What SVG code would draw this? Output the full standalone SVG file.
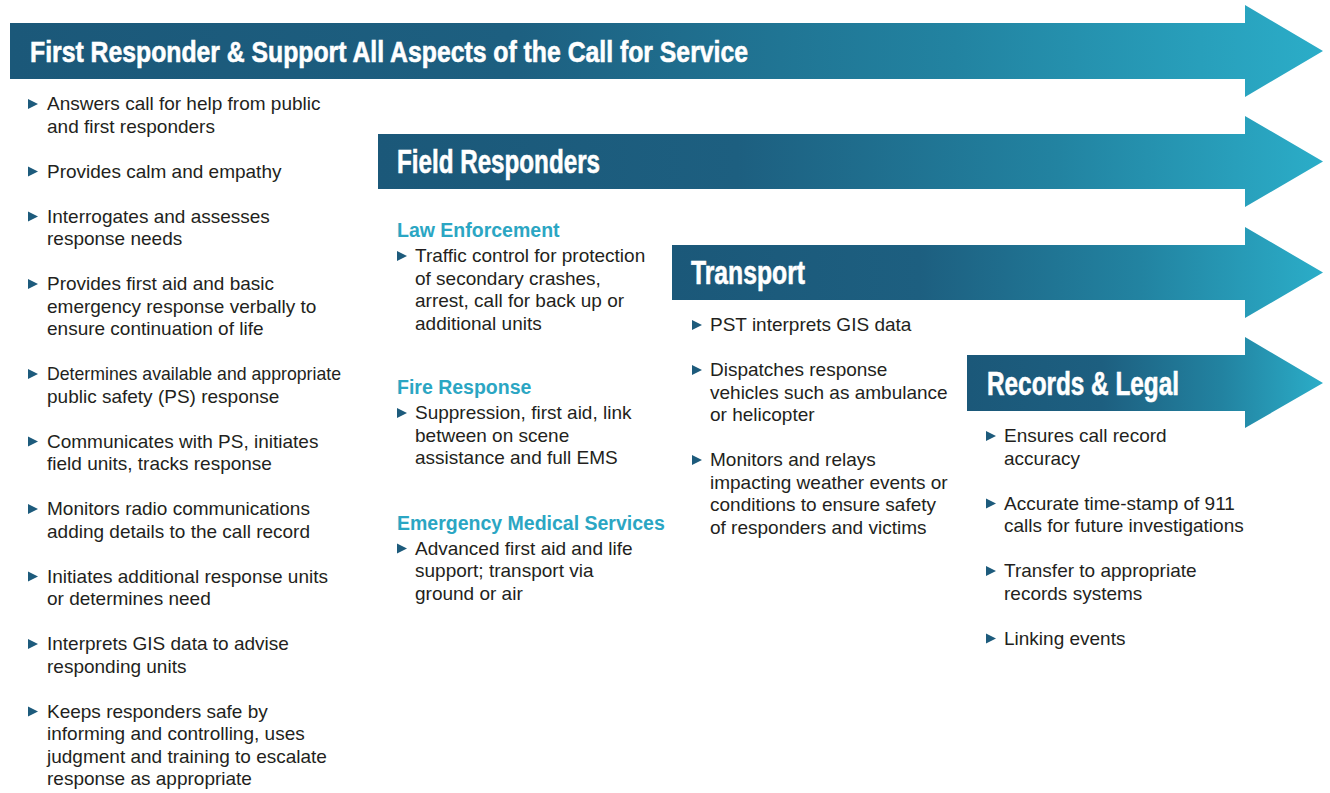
<svg xmlns="http://www.w3.org/2000/svg" width="1330" height="793" viewBox="0 0 1330 793">
  <defs>
    <linearGradient id="band" x1="0" y1="0" x2="1" y2="0">
      <stop offset="0" stop-color="#1b5879"/>
      <stop offset="0.38" stop-color="#1d5f80"/>
      <stop offset="0.72" stop-color="#2283a1"/>
      <stop offset="1" stop-color="#2badc8"/>
    </linearGradient>
    <path id="tri" d="M0 -11 L10 -6 L0 -1 Z"/>
  </defs>
  <style>
    .band { fill: url(#band); }
    .band-title { font-family: "Liberation Sans", Arial, sans-serif; font-weight: bold; fill: #ffffff; stroke: #ffffff; stroke-width: 0.6px; }
    .body { font-family: "Liberation Sans", Arial, sans-serif; font-size: 19px; fill: #231f20; }
    .head { font-family: "Liberation Sans", Arial, sans-serif; font-size: 19.5px; font-weight: bold; fill: #2ba6c3; }
    .bullet { fill: #1d5b7c; }
  </style>
  <rect width="1330" height="793" fill="#ffffff"/>

  <!-- stage bands -->
  <g id="band-first-responder">
    <path class="band" d="M10 23 H1245 V5 L1323 51 L1245 97 V79 H10 Z"/>
    <text class="band-title" x="30" y="62" font-size="29.5" textLength="718" lengthAdjust="spacingAndGlyphs">First Responder &amp; Support All Aspects of the Call for Service</text>
  </g>
  <g id="band-field-responders">
    <path class="band" d="M378 134 H1245 V116 L1323 161.5 L1245 207 V189 H378 Z"/>
    <text class="band-title" x="397" y="173" font-size="33" textLength="203" lengthAdjust="spacingAndGlyphs">Field Responders</text>
  </g>
  <g id="band-transport">
    <path class="band" d="M672 245 H1245 V227 L1323 272.5 L1245 318 V300 H672 Z"/>
    <text class="band-title" x="691" y="284" font-size="33" textLength="114" lengthAdjust="spacingAndGlyphs">Transport</text>
  </g>
  <g id="band-records">
    <path class="band" d="M967 355 H1245 V337 L1323 383 L1245 428 V411 H967 Z"/>
    <text class="band-title" x="987" y="394.5" font-size="33" textLength="192" lengthAdjust="spacingAndGlyphs">Records &amp; Legal</text>
  </g>

  <!-- first responder duties -->
  <g id="list-first-responder">
    <use href="#tri" class="bullet" x="28" y="110"/>
    <text class="body" x="47" y="110"><tspan x="47">Answers call for help from public</tspan><tspan x="47" dy="22.5">and first responders</tspan></text>
    <use href="#tri" class="bullet" x="28" y="177.5"/>
    <text class="body" x="47" y="177.5">Provides calm and empathy</text>
    <use href="#tri" class="bullet" x="28" y="222.5"/>
    <text class="body" x="47" y="222.5"><tspan x="47">Interrogates and assesses</tspan><tspan x="47" dy="22.5">response needs</tspan></text>
    <use href="#tri" class="bullet" x="28" y="290"/>
    <text class="body" x="47" y="290"><tspan x="47">Provides first aid and basic</tspan><tspan x="47" dy="22.5">emergency response verbally to</tspan><tspan x="47" dy="22.5">ensure continuation of life</tspan></text>
    <use href="#tri" class="bullet" x="28" y="380"/>
    <text class="body" x="47" y="380"><tspan x="47" textLength="294" lengthAdjust="spacingAndGlyphs">Determines available and appropriate</tspan><tspan x="47" dy="22.5">public safety (PS) response</tspan></text>
    <use href="#tri" class="bullet" x="28" y="447.5"/>
    <text class="body" x="47" y="447.5"><tspan x="47">Communicates with PS, initiates</tspan><tspan x="47" dy="22.5">field units, tracks response</tspan></text>
    <use href="#tri" class="bullet" x="28" y="515"/>
    <text class="body" x="47" y="515"><tspan x="47">Monitors radio communications</tspan><tspan x="47" dy="22.5">adding details to the call record</tspan></text>
    <use href="#tri" class="bullet" x="28" y="582.5"/>
    <text class="body" x="47" y="582.5"><tspan x="47">Initiates additional response units</tspan><tspan x="47" dy="22.5">or determines need</tspan></text>
    <use href="#tri" class="bullet" x="28" y="650"/>
    <text class="body" x="47" y="650"><tspan x="47">Interprets GIS data to advise</tspan><tspan x="47" dy="22.5">responding units</tspan></text>
    <use href="#tri" class="bullet" x="28" y="717.5"/>
    <text class="body" x="47" y="717.5"><tspan x="47">Keeps responders safe by</tspan><tspan x="47" dy="22.5">informing and controlling, uses</tspan><tspan x="47" dy="22.5">judgment and training to escalate</tspan><tspan x="47" dy="22.5">response as appropriate</tspan></text>
  </g>

  <!-- field responder duties -->
  <g id="list-field-responders">
    <text class="head" x="397" y="237">Law Enforcement</text>
    <use href="#tri" class="bullet" x="397" y="262"/>
    <text class="body" x="415" y="262"><tspan x="415">Traffic control for protection</tspan><tspan x="415" dy="22.5">of secondary crashes,</tspan><tspan x="415" dy="22.5">arrest, call for back up or</tspan><tspan x="415" dy="22.5">additional units</tspan></text>
    <text class="head" x="397" y="394">Fire Response</text>
    <use href="#tri" class="bullet" x="397" y="419"/>
    <text class="body" x="415" y="419"><tspan x="415">Suppression, first aid, link</tspan><tspan x="415" dy="22.5">between on scene</tspan><tspan x="415" dy="22.5">assistance and full EMS</tspan></text>
    <text class="head" x="397" y="529.5">Emergency Medical Services</text>
    <use href="#tri" class="bullet" x="397" y="554.5"/>
    <text class="body" x="415" y="554.5"><tspan x="415">Advanced first aid and life</tspan><tspan x="415" dy="22.5">support; transport via</tspan><tspan x="415" dy="22.5">ground or air</tspan></text>
  </g>

  <!-- transport duties -->
  <g id="list-transport">
    <use href="#tri" class="bullet" x="692" y="331"/>
    <text class="body" x="710" y="331">PST interprets GIS data</text>
    <use href="#tri" class="bullet" x="692" y="376"/>
    <text class="body" x="710" y="376"><tspan x="710">Dispatches response</tspan><tspan x="710" dy="22.5">vehicles such as ambulance</tspan><tspan x="710" dy="22.5">or helicopter</tspan></text>
    <use href="#tri" class="bullet" x="692" y="466"/>
    <text class="body" x="710" y="466"><tspan x="710">Monitors and relays</tspan><tspan x="710" dy="22.5">impacting weather events or</tspan><tspan x="710" dy="22.5">conditions to ensure safety</tspan><tspan x="710" dy="22.5">of responders and victims</tspan></text>
  </g>

  <!-- records and legal duties -->
  <g id="list-records">
    <use href="#tri" class="bullet" x="986" y="442"/>
    <text class="body" x="1004" y="442"><tspan x="1004">Ensures call record</tspan><tspan x="1004" dy="22.5">accuracy</tspan></text>
    <use href="#tri" class="bullet" x="986" y="509.5"/>
    <text class="body" x="1004" y="509.5"><tspan x="1004">Accurate time-stamp of 911</tspan><tspan x="1004" dy="22.5">calls for future investigations</tspan></text>
    <use href="#tri" class="bullet" x="986" y="577"/>
    <text class="body" x="1004" y="577"><tspan x="1004">Transfer to appropriate</tspan><tspan x="1004" dy="22.5">records systems</tspan></text>
    <use href="#tri" class="bullet" x="986" y="644.5"/>
    <text class="body" x="1004" y="644.5">Linking events</text>
  </g>
</svg>
